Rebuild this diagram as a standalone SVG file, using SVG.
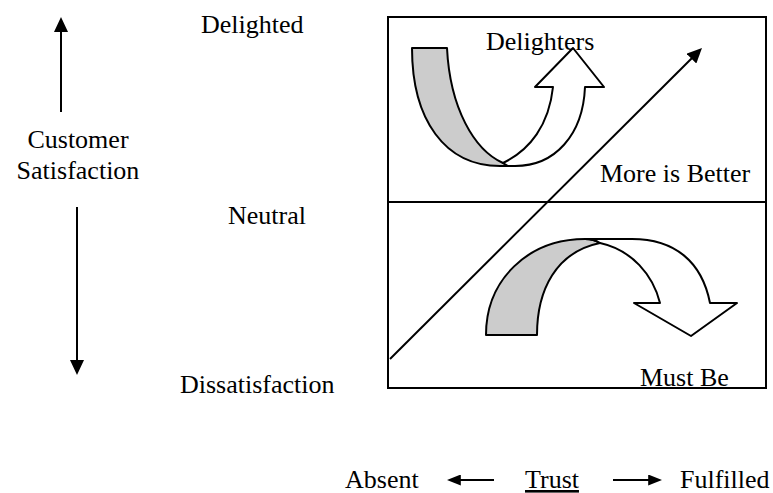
<svg xmlns="http://www.w3.org/2000/svg" width="773" height="493" viewBox="0 0 773 493">
  <style>
    text { font-family: "Liberation Serif", "Times New Roman", serif; font-size: 26px; fill: #000; }
    .ln { stroke: #000; stroke-width: 2; fill: none; }
    .shape { stroke: #000; stroke-width: 2; stroke-linejoin: round; }
    .gray { fill: #cccccc; }
    .white { fill: #ffffff; }
  </style>
  <defs>
    <marker id="ah" viewBox="0 0 10 10" refX="7" refY="5" markerUnits="userSpaceOnUse" markerWidth="15" markerHeight="14" orient="auto" preserveAspectRatio="none">
      <path d="M0,0 L10,5 L0,10 Z" fill="#000"/>
    </marker>
    <marker id="ahs" viewBox="0 0 10 10" refX="7" refY="5" markerUnits="userSpaceOnUse" markerWidth="14" markerHeight="11" orient="auto" preserveAspectRatio="none">
      <path d="M0,0 L10,5 L0,10 Z" fill="#000"/>
    </marker>
  </defs>
  <rect width="773" height="493" fill="#fff"/>

  <g id="frame">
    <rect x="388" y="17" width="378" height="371" class="ln"/>
    <line x1="388" y1="202" x2="766" y2="202" class="ln"/>
  </g>

  <g id="delighters-arrow">
    <path class="shape gray" d="M412,48 L447,48 C450,108 474,150 503,163 L508,166 L500,166 C445,166 412,120 412,48 Z"/>
    <path class="shape white" d="M503,163 C530,150 549,125 553,87 L535,87 L573,48 L604,87 L585,87 C583,135 555,166 515,166 L508,166 Z"/>
  </g>

  <g id="mustbe-arrow">
    <path class="shape gray" d="M486,335 L537,335 C537,290 556,252 600,243 Q594,239 585,239 C528,239 486,280 486,335 Z"/>
    <path class="shape white" d="M600,243 C632,250 653,275 660,303 L634,303 L691,336 L737,303 L710,303 C702,262 675,239 632,239 L585,239 Q594,239 600,243 Z"/>
  </g>

  <g id="connectors">
    <line x1="390" y1="359" x2="698.8" y2="51.2" class="ln" marker-end="url(#ah)"/>
    <line x1="61" y1="112" x2="61" y2="21.5" class="ln" marker-end="url(#ah)"/>
    <line x1="77" y1="207" x2="77" y2="370.5" class="ln" marker-end="url(#ah)"/>
    <line x1="494" y1="480" x2="451" y2="480" class="ln" marker-end="url(#ahs)"/>
    <line x1="613" y1="480" x2="658" y2="480" class="ln" marker-end="url(#ahs)"/>
  </g>

  <g id="labels">
    <text x="201" y="33">Delighted</text>
    <text x="78" y="148" text-anchor="middle">Customer</text>
    <text x="78" y="179" text-anchor="middle">Satisfaction</text>
    <text x="228" y="224">Neutral</text>
    <text x="180" y="393">Dissatisfaction</text>
    <text x="486" y="50">Delighters</text>
    <text x="600" y="182">More is Better</text>
    <text x="640" y="386">Must Be</text>
    <text x="345" y="488">Absent</text>
    <text x="525" y="488" text-decoration="underline">Trust</text>
    <text x="680" y="488">Fulfilled</text>
  </g>
</svg>
